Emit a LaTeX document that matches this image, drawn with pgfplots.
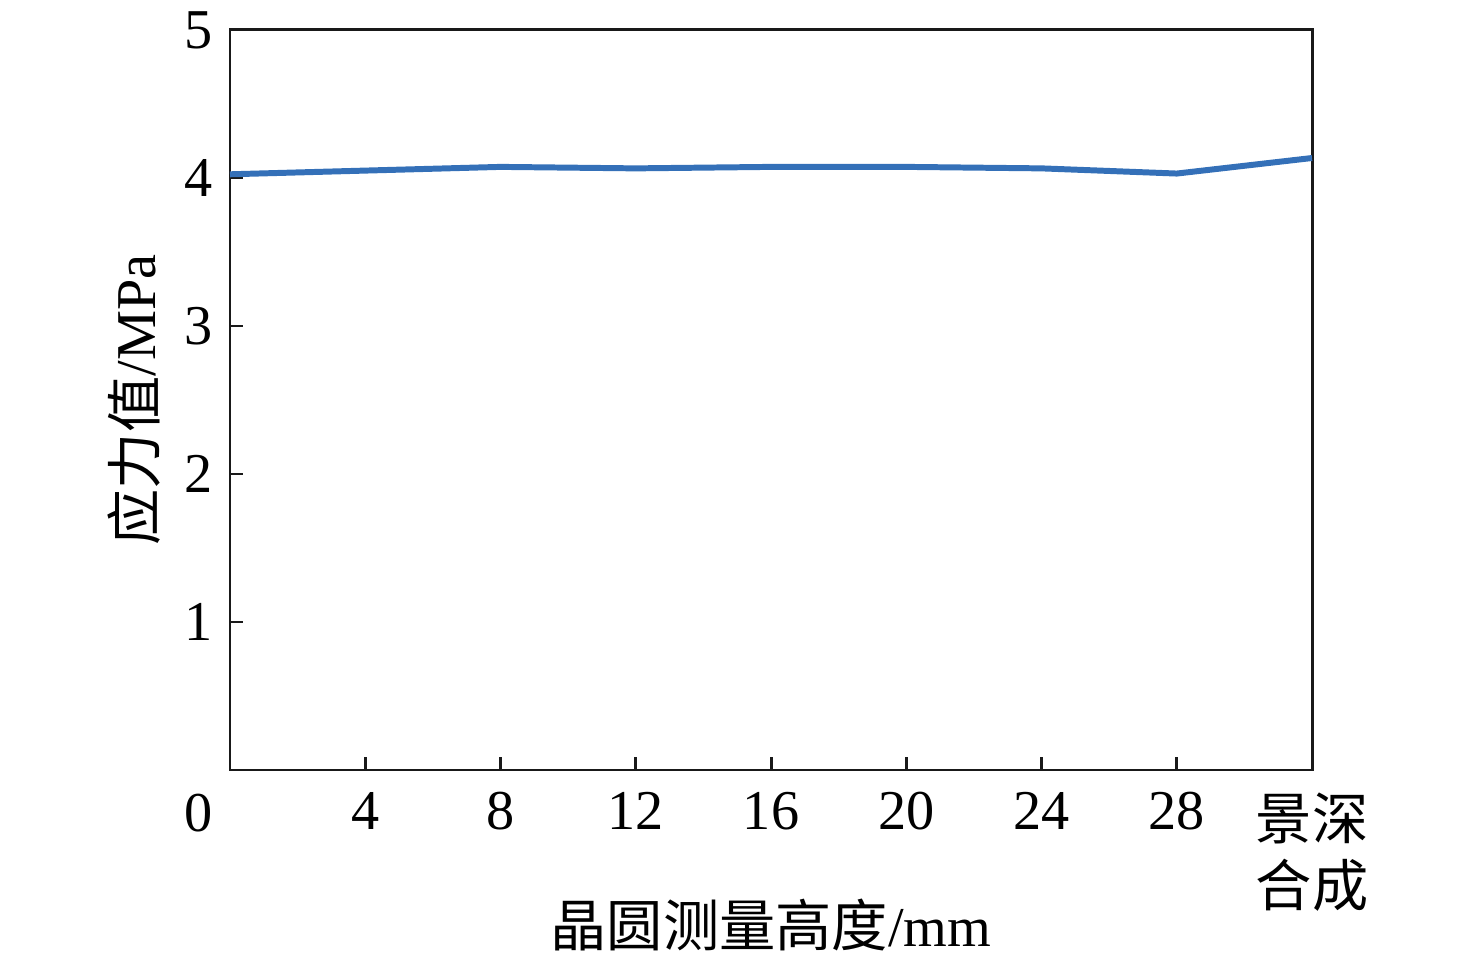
\documentclass[border=0pt]{standalone}
\usepackage{pgfplots}
\pgfplotsset{compat=1.18}
\usepackage{fontspec}
\setmainfont{Liberation Serif}
\newfontfamily\cjk{Noto Sans CJK SC}
\usetikzlibrary{calc}
\definecolor{lineblue}{RGB}{52,112,184}

\begin{document}
\begin{tikzpicture}
\begin{axis}[
  name=ax,
  scale only axis,
  width=10.82cm, height=7.40cm,
  xmin=0, xmax=32,
  ymin=0, ymax=5,
  xtick={4,8,12,16,20,24,28,32},
  xticklabels={4,8,12,16,20,24,28,{\cjk 景深\\\cjk 合成}},
  xticklabel style={align=center, yshift=-0.10cm},
  ytick={1,2,3,4,5},
  yticklabel style={xshift=-0.05cm},
  tick align=inside,
  major tick length=0.13cm,
  xtick pos=bottom, ytick pos=left,
  axis line style={line width=0.85pt, black!90},
  every tick/.style={line width=0.85pt, black!90},
  font=\fontsize{16}{19.3}\selectfont,
  /pgf/number format/assume math mode=true,
  xlabel={{\cjk 晶圆测量高度}/mm},
  ylabel={{\cjk 应力值}/MPa},
  xlabel style={at={(axis description cs:0.5,0)}, anchor=center, yshift=-1.55cm},
  ylabel style={yshift=0cm},
  clip=false,
]
\addplot[color=lineblue, line width=1.7pt, line join=round] coordinates {
  (0,4.025) (4,4.05) (8,4.075) (12,4.065) (16,4.075) (20,4.075) (24,4.065) (28,4.03) (32,4.135)
};
\end{axis}
\node[font=\fontsize{16}{19.3}\selectfont] at ($(ax.south west)+(-0.31,-0.43)$) {0};
\pgfresetboundingbox
\path ($(ax.south west)+(-2.30,-1.89)$) rectangle ($(ax.north east)+(1.64,0.30)$);
\end{tikzpicture}
\end{document}
